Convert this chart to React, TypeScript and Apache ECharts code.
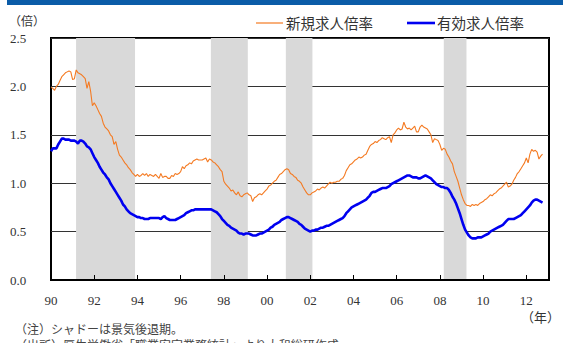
import React, { useEffect, useRef } from "react";
import * as echarts from "echarts";

// Monthly series, first value = January 1990, last value = October 2012
const START_YEAR = 1990;

// 新規求人倍率 (new job openings-to-applicants ratio)
const newRatio = [
  // 1990
  1.99, 1.98, 1.96, 2.0, 2.02, 2.06, 2.1, 2.12, 2.14, 2.15, 2.16, 2.15,
  // 1991
  2.07, 2.08, 2.17, 2.14, 2.13, 2.12, 2.1, 2.08, 1.98, 2.05, 1.95, 1.8,
  // 1992
  1.83, 1.8, 1.76, 1.72, 1.69, 1.62, 1.58, 1.56, 1.54, 1.5, 1.48, 1.4,
  // 1993
  1.43, 1.35, 1.29, 1.27, 1.24, 1.21, 1.19, 1.16, 1.14, 1.11, 1.09, 1.07,
  // 1994
  1.09, 1.07, 1.08, 1.1, 1.08, 1.1, 1.07, 1.09, 1.08, 1.07, 1.09, 1.07,
  // 1995
  1.05, 1.1, 1.06, 1.07, 1.07, 1.05, 1.05, 1.08, 1.07, 1.1, 1.09, 1.1,
  // 1996
  1.12, 1.17, 1.15, 1.18, 1.19, 1.21, 1.2, 1.23, 1.24, 1.25, 1.24, 1.24,
  // 1997
  1.24, 1.25, 1.26, 1.22, 1.25, 1.24, 1.22, 1.21, 1.19, 1.17, 1.14, 1.12,
  // 1998
  1.02, 0.99, 0.97, 0.95, 0.92, 0.93, 0.9, 0.88, 0.91, 0.87, 0.86, 0.88,
  // 1999
  0.89, 0.9, 0.88, 0.87, 0.81, 0.85, 0.86, 0.88, 0.89, 0.88, 0.9, 0.92,
  // 2000
  0.94, 0.97, 0.98, 1.0, 1.02, 1.03, 1.06, 1.09, 1.1, 1.12, 1.14, 1.15,
  // 2001
  1.14, 1.1, 1.09, 1.07, 1.06, 1.03, 1.02, 1.0, 0.96, 0.93, 0.9, 0.88,
  // 2002
  0.88, 0.9, 0.91, 0.92, 0.94, 0.93, 0.95, 0.96, 0.95, 0.97, 0.99, 1.01,
  // 2003
  1.0, 1.01, 1.01, 1.02, 1.02, 1.04, 1.05, 1.08, 1.13, 1.16, 1.19, 1.2,
  // 2004
  1.22, 1.24, 1.25, 1.27, 1.26, 1.27, 1.29, 1.3, 1.34, 1.38, 1.4, 1.41,
  // 2005
  1.43, 1.42, 1.44, 1.45, 1.47, 1.46, 1.45, 1.47, 1.48, 1.42, 1.5, 1.52,
  // 2006
  1.55, 1.57, 1.55, 1.56, 1.63, 1.58, 1.56, 1.57, 1.55, 1.57, 1.59, 1.53,
  // 2007
  1.53, 1.58, 1.6, 1.58, 1.57, 1.56, 1.53, 1.5, 1.42, 1.46, 1.45, 1.44,
  // 2008
  1.4, 1.34, 1.36, 1.35, 1.3, 1.27, 1.23, 1.2, 1.12, 1.07, 1.02, 0.95,
  // 2009
  0.88, 0.83, 0.79, 0.77, 0.77, 0.76, 0.78, 0.77, 0.78, 0.77, 0.79, 0.8,
  // 2010
  0.81, 0.83, 0.84, 0.86, 0.88, 0.87, 0.89, 0.9, 0.92, 0.94, 0.95, 0.97,
  // 2011
  0.99, 1.01, 0.96, 0.97, 0.99, 1.03, 1.06, 1.1, 1.12, 1.15, 1.18, 1.21,
  // 2012
  1.26, 1.21, 1.3, 1.35, 1.33, 1.34, 1.32, 1.25, 1.28, 1.3,
];

// 有効求人倍率 (active job openings-to-applicants ratio)
const activeRatio = [
  // 1990
  1.33, 1.36, 1.36, 1.36, 1.4, 1.43, 1.46, 1.46, 1.45, 1.45, 1.45, 1.44,
  // 1991
  1.44, 1.44, 1.43, 1.41, 1.44, 1.44, 1.43, 1.41, 1.38, 1.37, 1.35, 1.31,
  // 1992
  1.27, 1.24, 1.21, 1.17, 1.14, 1.11, 1.09, 1.06, 1.04, 1.0, 0.97, 0.94,
  // 1993
  0.91, 0.88, 0.85, 0.82, 0.78, 0.76, 0.73, 0.71, 0.69, 0.68, 0.67, 0.66,
  // 1994
  0.65, 0.65, 0.64, 0.64, 0.63, 0.63, 0.63, 0.64, 0.64, 0.64, 0.64, 0.64,
  // 1995
  0.64, 0.63, 0.65, 0.66, 0.64, 0.63, 0.62, 0.62, 0.62, 0.62, 0.63, 0.64,
  // 1996
  0.65, 0.66, 0.67, 0.69, 0.7, 0.71, 0.72, 0.72, 0.73, 0.73, 0.73, 0.73,
  // 1997
  0.73, 0.73, 0.73, 0.73, 0.73, 0.73, 0.72, 0.71, 0.7, 0.68, 0.66, 0.63,
  // 1998
  0.61, 0.59, 0.57, 0.56, 0.54, 0.53, 0.52, 0.51, 0.49, 0.48, 0.48, 0.47,
  // 1999
  0.48, 0.48, 0.48, 0.47, 0.46, 0.46, 0.46, 0.47, 0.48, 0.48, 0.49, 0.5,
  // 2000
  0.51, 0.52, 0.54, 0.55, 0.57, 0.58, 0.59, 0.6, 0.62, 0.63, 0.64, 0.65,
  // 2001
  0.65, 0.64, 0.63, 0.62, 0.61, 0.6, 0.58, 0.57, 0.55, 0.53, 0.52, 0.51,
  // 2002
  0.5, 0.51, 0.51, 0.52, 0.52, 0.53, 0.54, 0.54, 0.55, 0.56, 0.56, 0.57,
  // 2003
  0.58, 0.59, 0.6, 0.61, 0.62, 0.63, 0.64, 0.66, 0.69, 0.71, 0.73, 0.75,
  // 2004
  0.76, 0.77, 0.78, 0.79, 0.8, 0.81, 0.82, 0.83, 0.85, 0.87, 0.9, 0.91,
  // 2005
  0.91, 0.92, 0.93, 0.94, 0.95, 0.95, 0.95, 0.96, 0.97, 0.99, 1.0, 1.01,
  // 2006
  1.02, 1.03, 1.04, 1.05, 1.06, 1.07, 1.08, 1.08, 1.07, 1.06, 1.06, 1.06,
  // 2007
  1.05, 1.05, 1.06, 1.07, 1.08, 1.07, 1.06, 1.05, 1.03, 1.01, 0.99, 0.98,
  // 2008
  0.97, 0.96, 0.96, 0.95, 0.95, 0.93, 0.9, 0.86, 0.83, 0.79, 0.74, 0.69,
  // 2009
  0.63, 0.57, 0.52, 0.49, 0.46, 0.44, 0.43, 0.43, 0.43, 0.44, 0.44, 0.44,
  // 2010
  0.45, 0.46, 0.47, 0.48, 0.5, 0.51, 0.52, 0.53, 0.54, 0.55, 0.56, 0.57,
  // 2011
  0.59, 0.61, 0.63, 0.63, 0.63, 0.63, 0.64, 0.65, 0.66, 0.67, 0.69, 0.71,
  // 2012
  0.73, 0.75, 0.77, 0.8, 0.82, 0.83, 0.83, 0.82, 0.81, 0.8,
];

// Recession periods (decimal years), drawn as grey bands
const recessions: [number, number][] = [
  [1991.16, 1993.89],
  [1997.4, 1999.11],
  [2000.87, 2002.1],
  [2008.18, 2009.23],
];

const SERIES_NEW = "新規求人倍率";
const SERIES_ACTIVE = "有効求人倍率";
const ORANGE = "#f47a22";
const BLUE = "#0000f0";

const SERIF = "'Liberation Serif', 'Noto Sans CJK JP', serif";
const CJK = "'Noto Sans CJK JP', sans-serif";

const toPoints = (vals: number[]) =>
  vals.map((v, i) => [START_YEAR + i / 12, v]);

export default function App() {
  const ref = useRef<HTMLDivElement>(null);

  useEffect(() => {
    if (!ref.current) return;
    const chart = echarts.init(ref.current, undefined, { renderer: "svg" });

    chart.setOption({
      animation: false,
      backgroundColor: "#ffffff",
      textStyle: { fontFamily: SERIF },
      grid: {
        left: 51,
        right: 14,
        top: 38,
        bottom: 63,
        show: true,
        borderColor: "#000",
        borderWidth: 2,
        backgroundColor: "transparent",
      },
      xAxis: {
        type: "value",
        min: 1990,
        max: 2013.05,
        interval: 2,
        z: 10,
        axisLine: { show: true, onZero: false, lineStyle: { color: "#000", width: 2 } },
        axisTick: { show: true, inside: true, length: 5, lineStyle: { color: "#000", width: 1 } },
        splitLine: { show: false },
        axisLabel: {
          margin: 14,
          color: "#333",
          fontSize: 13,
          fontFamily: SERIF,
          showMaxLabel: false,
          formatter: (v: number) =>
            Number.isInteger(v) && v % 2 === 0 ? String(v % 100).padStart(2, "0") : "",
        },
      },
      yAxis: {
        type: "value",
        min: 0,
        max: 2.5,
        interval: 0.5,
        axisLine: { show: false },
        axisTick: { show: false },
        splitLine: { show: true, lineStyle: { color: "#333", width: 1 } },
        axisLabel: {
          align: "left",
          margin: 41,
          color: "#333",
          fontSize: 13,
          fontFamily: SERIF,
          formatter: (v: number) => v.toFixed(1),
        },
      },
      series: [
        {
          name: "recession",
          type: "line",
          data: [],
          silent: true,
          markArea: {
            silent: true,
            itemStyle: { color: "#d9d9d9" },
            data: recessions.map(([a, b]) => [{ xAxis: a }, { xAxis: b }]),
          },
        },
        {
          name: SERIES_NEW,
          type: "line",
          data: toPoints(newRatio),
          symbol: "none",
          lineStyle: { color: ORANGE, width: 1.1 },
          z: 3,
        },
        {
          name: SERIES_ACTIVE,
          type: "line",
          data: toPoints(activeRatio),
          symbol: "none",
          lineStyle: { color: BLUE, width: 2.6 },
          z: 4,
        },
      ],
      graphic: [
        // header band
        { type: "rect", left: 7, top: 0, shape: { width: 556, height: 5 }, style: { fill: "#0b5ca8" } },
        // unit label
        {
          type: "text",
          left: 9,
          top: 16,
          style: { text: "（倍）", fill: "#333", font: `12px ${SERIF}` },
        },
        // legend
        {
          type: "line",
          shape: { x1: 256, y1: 23, x2: 283, y2: 23 },
          style: { stroke: ORANGE, lineWidth: 1.2 },
        },
        {
          type: "text",
          left: 286,
          top: 15,
          style: { text: SERIES_NEW, fill: "#333", font: `14.5px ${CJK}` },
        },
        {
          type: "line",
          shape: { x1: 407, y1: 23, x2: 435, y2: 23 },
          style: { stroke: BLUE, lineWidth: 2.6 },
        },
        {
          type: "text",
          left: 437,
          top: 15,
          style: { text: SERIES_ACTIVE, fill: "#333", font: `14.5px ${CJK}` },
        },
        // x unit
        {
          type: "text",
          left: 521,
          top: 311,
          style: { text: "（年）", fill: "#333", font: `13px ${SERIF}` },
        },
        // notes
        {
          type: "text",
          left: 15,
          top: 322,
          style: { text: "（注）シャドーは景気後退期。", fill: "#444", font: `12px ${CJK}` },
        },
        {
          type: "text",
          left: 15,
          top: 338,
          style: {
            text: "（出所）厚生労働省「職業安定業務統計」より大和総研作成",
            fill: "#444",
            font: `12px ${CJK}`,
          },
        },
      ],
    });

    return () => chart.dispose();
  }, []);

  return (
    <div
      ref={ref}
      style={{
        position: "fixed",
        left: 0,
        top: 0,
        width: 563,
        height: 343,
        background: "#fff",
      }}
    />
  );
}
